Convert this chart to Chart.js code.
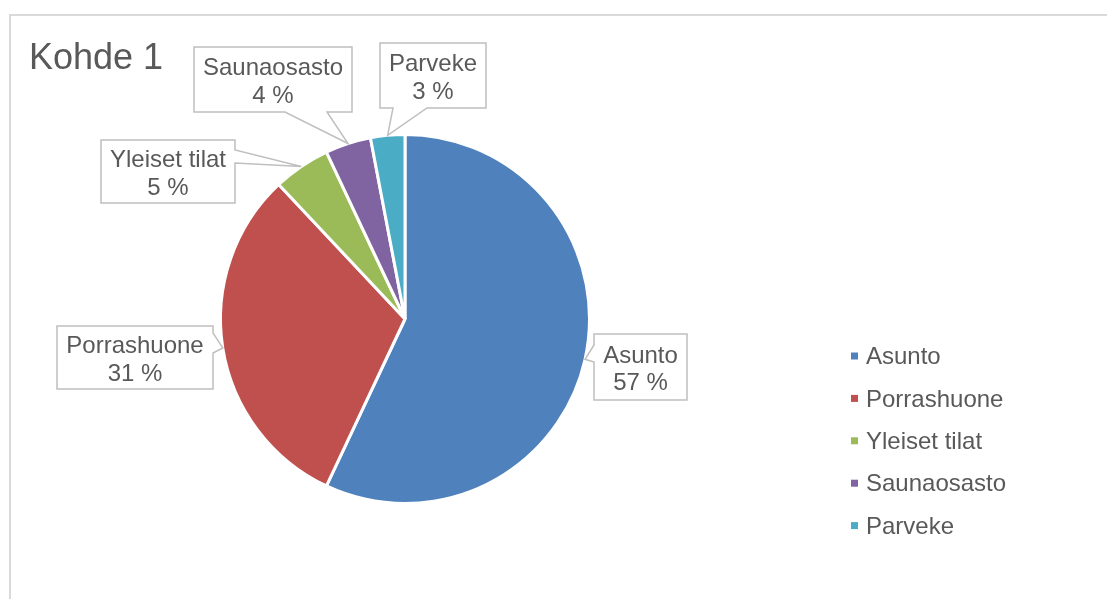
<!DOCTYPE html>
<html lang="fi">
<head>
<meta charset="UTF-8">
<title>Kohde 1</title>
<script src="https://cdn.jsdelivr.net/npm/chart.js"></script>
<style>
  body { margin: 0; background: #fff; }
  #wrap { position: relative; width: 1107px; height: 599px; overflow: hidden; }
  #frame { position: absolute; left: 9px; top: 14px; width: 1120px; height: 600px;
           border-top: 2px solid #d9d9d9; border-left: 2px solid #d9d9d9; }
  canvas { position: absolute; left: 0; top: 0; }
</style>
</head>
<body>
<div id="wrap">
  <div id="frame"></div>
  <canvas id="pie" width="1107" height="599"></canvas>
</div>

<script>
  // chart data
  const chartTitle = 'Kohde 1';
  const categories = ['Asunto', 'Porrashuone', 'Yleiset tilat', 'Saunaosasto', 'Parveke'];
  const shares = [57, 31, 5, 4, 3];

  const sliceColors = ['#4F81BD', '#C0504D', '#9BBB59', '#8064A2', '#4BACC6'];
  const textColor = '#595959';
  const fontFamily = '"Liberation Sans", Arial, sans-serif';

  // callout boxes: rectangle plus which edge the pointer leaves from
  const calloutLayout = [
    { x: 594, y: 334, w: 93,  h: 66, side: 'left',   from: 345, to: 362 },
    { x: 57,  y: 326, w: 156, h: 63, side: 'right',  from: 333, to: 353 },
    { x: 101, y: 140, w: 134, h: 63, side: 'right',  from: 150, to: 163 },
    { x: 194, y: 47,  w: 158, h: 65, side: 'bottom', from: 285, to: 327 },
    { x: 380, y: 43,  w: 106, h: 65, side: 'bottom', from: 393, to: 427 }
  ];

  const legendX = 851;
  const legendTop = 355.5;
  const legendStep = 42.4;

  const total = shares.reduce((a, b) => a + b, 0);

  function pct(v) {
    return Math.round(v / total * 100) + ' %';
  }

  const decorations = {
    id: 'decorations',
    afterDraw(chart) {
      const ctx = chart.ctx;
      const meta = chart.getDatasetMeta(0);
      ctx.save();

      // title
      ctx.fillStyle = textColor;
      ctx.font = '36px ' + fontFamily;
      ctx.textAlign = 'left';
      ctx.textBaseline = 'alphabetic';
      ctx.fillText(chartTitle, 29, 69);

      // data label callouts
      meta.data.forEach((arc, i) => {
        const p = arc.getProps(['x', 'y', 'startAngle', 'endAngle', 'outerRadius'], true);
        const mid = (p.startAngle + p.endAngle) / 2;
        const ax = p.x + Math.cos(mid) * p.outerRadius;
        const ay = p.y + Math.sin(mid) * p.outerRadius;
        const b = calloutLayout[i];

        ctx.beginPath();
        if (b.side === 'bottom') {
          ctx.moveTo(b.x, b.y);
          ctx.lineTo(b.x + b.w, b.y);
          ctx.lineTo(b.x + b.w, b.y + b.h);
          ctx.lineTo(b.to, b.y + b.h);
          ctx.lineTo(ax, ay);
          ctx.lineTo(b.from, b.y + b.h);
          ctx.lineTo(b.x, b.y + b.h);
        } else if (b.side === 'right') {
          ctx.moveTo(b.x, b.y);
          ctx.lineTo(b.x + b.w, b.y);
          ctx.lineTo(b.x + b.w, b.from);
          ctx.lineTo(ax, ay);
          ctx.lineTo(b.x + b.w, b.to);
          ctx.lineTo(b.x + b.w, b.y + b.h);
          ctx.lineTo(b.x, b.y + b.h);
        } else {
          ctx.moveTo(b.x, b.y);
          ctx.lineTo(b.x + b.w, b.y);
          ctx.lineTo(b.x + b.w, b.y + b.h);
          ctx.lineTo(b.x, b.y + b.h);
          ctx.lineTo(b.x, b.to);
          ctx.lineTo(ax, ay);
          ctx.lineTo(b.x, b.from);
        }
        ctx.closePath();
        ctx.fillStyle = '#ffffff';
        ctx.fill();
        ctx.lineWidth = 1.5;
        ctx.strokeStyle = '#bfbfbf';
        ctx.stroke();

        const cx = b.x + b.w / 2;
        const cy = b.y + b.h / 2;
        ctx.fillStyle = textColor;
        ctx.font = '24px ' + fontFamily;
        ctx.textAlign = 'center';
        ctx.fillText(categories[i], cx, cy - 4.5);
        ctx.fillText(pct(shares[i]), cx, cy + 23);
      });

      // legend
      ctx.textAlign = 'left';
      ctx.font = '24px ' + fontFamily;
      categories.forEach((name, i) => {
        const cy = legendTop + i * legendStep;
        ctx.fillStyle = sliceColors[i];
        ctx.fillRect(legendX, cy - 3, 7, 7);
        ctx.fillStyle = textColor;
        ctx.fillText(name, legendX + 15, cy + 8.6);
      });

      ctx.restore();
    }
  };

  new Chart(document.getElementById('pie'), {
    type: 'pie',
    data: {
      labels: categories,
      datasets: [{
        data: shares,
        backgroundColor: sliceColors,
        borderColor: '#ffffff',
        borderWidth: 3,
        radius: 184.5
      }]
    },
    options: {
      responsive: false,
      animation: false,
      events: [],
      layout: { padding: { left: 222, right: 519, top: 136, bottom: 97 } },
      plugins: {
        legend: { display: false },
        title: { display: false },
        tooltip: { enabled: false }
      }
    },
    plugins: [decorations]
  });
</script>
</body>
</html>
